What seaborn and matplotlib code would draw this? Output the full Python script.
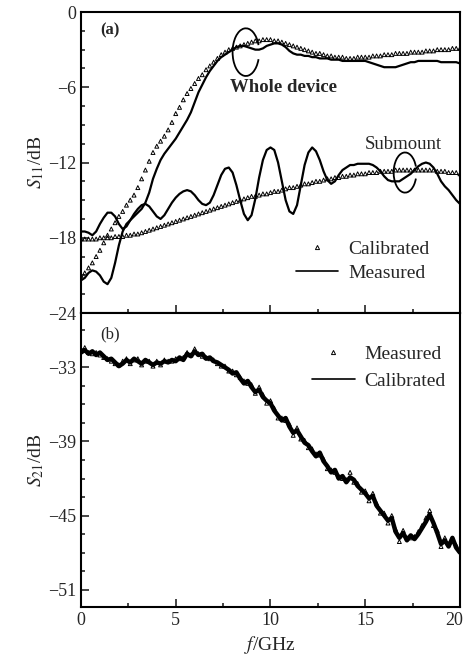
import numpy as np
import pandas as pd
import seaborn as sns
import matplotlib.pyplot as plt
from matplotlib.patches import Arc
from matplotlib.lines import Line2D
from matplotlib.ticker import MultipleLocator
from matplotlib.transforms import ScaledTranslation

sns.set_style("ticks")
plt.rcParams['font.family'] = ['Liberation Serif', 'DejaVu Serif']
plt.rcParams['mathtext.fontset'] = 'stix'

# frequency grid, GHz (0.2 GHz step)
freq = np.round(np.arange(0, 20.01, 0.2), 1)

# (a) S11, whole device
whole_meas = [
    -21.4, -21.2, -20.8, -20.6, -20.7, -21.0, -21.5, -21.7, -21.2, -20.0,
    -18.6, -17.5, -16.9, -16.6, -16.3, -16.0, -15.7, -15.2, -14.4, -13.3,
    -12.5, -11.8, -11.3, -10.9, -10.5, -10.1, -9.6, -9.1, -8.6, -8.0,
    -7.2, -6.4, -5.8, -5.2, -4.7, -4.3, -3.9, -3.6, -3.4, -3.2,
    -3.0, -2.8, -2.7, -2.7, -2.8, -2.9, -3.0, -3.0, -2.9, -2.7,
    -2.6, -2.5, -2.5, -2.6, -2.8, -3.1, -3.3, -3.4, -3.4, -3.5,
    -3.5, -3.6, -3.6, -3.7, -3.7, -3.7, -3.8, -3.8, -3.8, -3.9,
    -3.9, -3.9, -3.9, -3.9, -3.9, -3.9, -4.0, -4.1, -4.2, -4.3,
    -4.4, -4.4, -4.4, -4.4, -4.3, -4.2, -4.1, -4.0, -4.0, -3.9,
    -3.9, -3.9, -3.9, -3.9, -3.9, -4.0, -4.0, -4.0, -4.0, -4.0,
    -4.1]
whole_cal = [
    -21.0, -20.8, -20.4, -20.0, -19.5, -19.0, -18.4, -17.8, -17.3, -16.8,
    -16.3, -15.9, -15.4, -15.0, -14.6, -14.0, -13.3, -12.6, -11.9, -11.2,
    -10.7, -10.3, -9.9, -9.4, -8.8, -8.1, -7.6, -7.0, -6.5, -6.1,
    -5.7, -5.3, -5.0, -4.6, -4.3, -4.0, -3.7, -3.4, -3.2, -3.0,
    -2.9, -2.8, -2.7, -2.6, -2.5, -2.4, -2.3, -2.3, -2.2, -2.2,
    -2.2, -2.3, -2.3, -2.4, -2.5, -2.6, -2.7, -2.8, -2.9, -3.0,
    -3.1, -3.2, -3.3, -3.3, -3.4, -3.5, -3.5, -3.6, -3.6, -3.6,
    -3.7, -3.7, -3.7, -3.6, -3.6, -3.6, -3.6, -3.5, -3.5, -3.5,
    -3.4, -3.4, -3.4, -3.3, -3.3, -3.3, -3.3, -3.2, -3.2, -3.2,
    -3.2, -3.1, -3.1, -3.1, -3.0, -3.0, -3.0, -3.0, -2.9, -2.9,
    -2.9]

# (a) S11, submount
sub_meas = [
    -17.5, -17.5, -17.6, -17.8, -17.5, -16.9, -16.4, -16.0, -16.0, -16.3,
    -16.9, -17.3, -17.1, -16.6, -16.1, -15.7, -15.4, -15.3, -15.5, -15.9,
    -16.3, -16.5, -16.2, -15.7, -15.2, -14.8, -14.5, -14.3, -14.2, -14.3,
    -14.6, -15.0, -15.3, -15.4, -15.2, -14.6, -13.8, -13.0, -12.5, -12.4,
    -12.8, -13.8, -15.0, -16.1, -16.6, -16.2, -14.9, -13.2, -11.8, -11.0,
    -10.8, -11.0, -12.0, -13.5, -15.0, -15.9, -16.1, -15.4, -13.8, -12.2,
    -11.2, -10.8, -11.1, -11.8, -12.7, -13.4, -13.7, -13.5, -13.0, -12.6,
    -12.4, -12.2, -12.2, -12.1, -12.1, -12.1, -12.1, -12.2, -12.4, -12.7,
    -13.1, -13.4, -13.5, -13.5, -13.5, -13.3, -13.1, -12.9, -12.6, -12.3,
    -12.1, -12.0, -12.1, -12.4, -12.9, -13.5, -13.9, -14.2, -14.6, -15.0,
    -15.3]
sub_cal = [
    -18.1, -18.1, -18.1, -18.1, -18.1, -18.0, -18.0, -18.0, -18.0, -17.9,
    -17.9, -17.9, -17.8, -17.8, -17.7, -17.7, -17.6, -17.5, -17.4, -17.3,
    -17.2, -17.1, -17.0, -16.9, -16.8, -16.7, -16.6, -16.5, -16.4, -16.3,
    -16.2, -16.1, -16.0, -15.9, -15.8, -15.7, -15.6, -15.5, -15.4, -15.3,
    -15.2, -15.1, -15.0, -14.9, -14.8, -14.7, -14.7, -14.6, -14.5, -14.5,
    -14.4, -14.3, -14.3, -14.2, -14.1, -14.0, -14.0, -13.9, -13.8, -13.7,
    -13.7, -13.6, -13.5, -13.5, -13.4, -13.3, -13.3, -13.2, -13.2, -13.1,
    -13.1, -13.0, -13.0, -12.9, -12.9, -12.9, -12.8, -12.8, -12.8, -12.7,
    -12.7, -12.7, -12.7, -12.6, -12.6, -12.6, -12.6, -12.6, -12.6, -12.6,
    -12.6, -12.6, -12.6, -12.6, -12.7, -12.7, -12.7, -12.8, -12.8, -12.8,
    -12.9]

# (b) S21
s21_cal = [
    -31.8, -31.6, -31.9, -31.7, -32.0, -31.8, -32.1, -32.4, -32.3, -32.6,
    -32.9, -32.7, -32.4, -32.6, -32.3, -32.5, -32.7, -32.4, -32.6, -32.8,
    -32.6, -32.7, -32.5, -32.6, -32.4, -32.5, -32.2, -32.4, -31.9, -32.1,
    -31.7, -32.0, -31.9, -32.3, -32.2, -32.5, -32.6, -32.8, -33.0, -33.2,
    -33.5, -33.4, -33.9, -34.3, -34.1, -34.6, -35.0, -34.8, -35.4, -35.7,
    -35.9, -36.5, -36.9, -37.3, -37.1, -37.8, -38.3, -38.1, -38.6, -39.1,
    -39.3, -39.8, -40.2, -39.9, -40.6, -41.0, -41.5, -41.3, -42.0, -41.8,
    -42.3, -41.9, -42.1, -42.6, -42.9, -43.2, -43.6, -43.4, -44.2, -44.6,
    -45.0, -45.4, -45.2, -46.3, -46.8, -46.4, -47.0, -46.6, -46.9, -46.5,
    -46.0, -45.5, -44.9, -45.6, -46.4, -47.3, -47.0, -47.5, -46.8, -47.6,
    -48.0]
s21_meas = [
    -31.6, -31.4, -31.8, -31.9, -31.8, -32.0, -32.2, -32.3, -32.5, -32.7,
    -32.8, -32.5, -32.3, -32.7, -32.4, -32.3, -32.8, -32.5, -32.5, -32.9,
    -32.5, -32.8, -32.4, -32.5, -32.5, -32.3, -32.3, -32.2, -31.8, -32.0,
    -31.5, -31.9, -32.1, -32.2, -32.3, -32.4, -32.7, -32.9, -32.9, -33.3,
    -33.3, -33.6, -33.8, -34.1, -34.3, -34.4, -35.1, -34.6, -35.2, -35.9,
    -35.7, -36.3, -37.1, -37.1, -37.3, -37.6, -38.5, -37.9, -38.8, -38.9,
    -39.5, -39.6, -40.0, -40.1, -40.4, -41.2, -41.3, -41.5, -41.8, -42.0,
    -42.1, -41.5, -42.3, -42.4, -43.1, -43.0, -43.8, -43.2, -44.0, -44.8,
    -44.8, -45.6, -45.0, -46.1, -47.1, -46.2, -46.8, -46.8, -46.7, -46.3,
    -45.8, -45.2, -44.6, -45.8, -46.2, -47.5, -46.8, -47.3, -47.0, -47.4,
    -47.8]

fig = plt.figure(figsize=(4.67, 6.64), dpi=100)
ax_a = fig.add_axes([0.1734, 0.5286, 0.8116, 0.4533])
ax_b = fig.add_axes([0.1734, 0.0858, 0.8116, 0.4428])

tri = dict(marker='^', s=8, facecolors='none', edgecolors='black', linewidths=0.7)

# panel (a)
for y in (whole_cal, sub_cal):
    sns.scatterplot(x=freq, y=y, ax=ax_a, **tri)
for y in (whole_meas, sub_meas):
    sns.lineplot(x=freq, y=y, ax=ax_a, color='black', lw=1.6, estimator=None)

ax_a.add_patch(Arc((8.7, -3.2), 1.4, 3.8, theta1=40, theta2=320, color='black', lw=1.3))
ax_a.add_patch(Arc((17.1, -12.8), 1.2, 3.2, theta1=40, theta2=320, color='black', lw=1.3))
ax_a.text(7.85, -6.0, 'Whole device', fontsize=13.5, fontweight='bold', va='center')
ax_a.text(15.0, -10.6, 'Submount', fontsize=13.5, va='center')
ax_a.text(1.0, -1.5, '(a)', fontsize=12, fontweight='bold', va='center')

handles_a = [Line2D([], [], ls='none', marker='^', ms=3, mfc='none', mec='black', mew=0.7),
             Line2D([], [], color='black', lw=1.2)]
ax_a.legend(handles_a, ['Calibrated', 'Measured'], loc='upper left',
            bbox_to_anchor=(0.52, 0.30), frameon=False, fontsize=14,
            handlelength=2.2, handletextpad=0.5, labelspacing=0.35)

ax_a.set_xlim(0, 20)
ax_a.set_ylim(-24, 0)
ax_a.set_yticks([0, -6, -12, -18, -24])
ax_a.set_xticks([0, 5, 10, 15, 20])
ax_a.tick_params(labelbottom=False)
ax_a.set_ylabel(r'$S_{11}$/dB', fontsize=14, labelpad=1)
ax_a.set_xlabel('')

# panel (b)
sns.lineplot(x=freq, y=s21_cal, ax=ax_b, color='black', lw=3.2, estimator=None)
sns.scatterplot(x=freq, y=s21_meas, ax=ax_b, **tri)
ax_b.text(1.0, -30.3, '(b)', fontsize=12, va='center')

handles_b = [Line2D([], [], ls='none', marker='^', ms=3, mfc='none', mec='black', mew=0.7),
             Line2D([], [], color='black', lw=1.2)]
ax_b.legend(handles_b, ['Measured', 'Calibrated'], loc='upper left',
            bbox_to_anchor=(0.563, 0.95), frameon=False, fontsize=14,
            handlelength=2.2, handletextpad=0.5, labelspacing=0.5)

ax_b.set_xlim(0, 20)
ax_b.set_ylim(-52.4, -28.6)
ax_b.set_yticks([-33, -39, -45, -51])
ax_b.set_xticks([0, 5, 10, 15, 20])
ax_b.set_ylabel(r'$S_{21}$/dB', fontsize=14, labelpad=1)
ax_b.set_xlabel(r'$f$/GHz', fontsize=14)

for ax in (ax_a, ax_b):
    ax.xaxis.set_minor_locator(MultipleLocator(2.5))
    ax.yaxis.set_minor_locator(MultipleLocator(1.5))
    ax.tick_params(which='both', direction='in', top=False, right=False,
                   labelsize=13, width=1.2)
    ax.tick_params(which='major', length=6)
    ax.tick_params(which='minor', length=3)
    for s in ax.spines.values():
        s.set_visible(True)
        s.set_linewidth(1.5)
        s.set_color('black')

# keep the last x tick label inside the figure
fig.canvas.draw()
last = ax_b.get_xticklabels()[-1]
last.set_transform(last.get_transform() + ScaledTranslation(-4 / 72, 0, fig.dpi_scale_trans))

fig.savefig('out.png', dpi=100)
